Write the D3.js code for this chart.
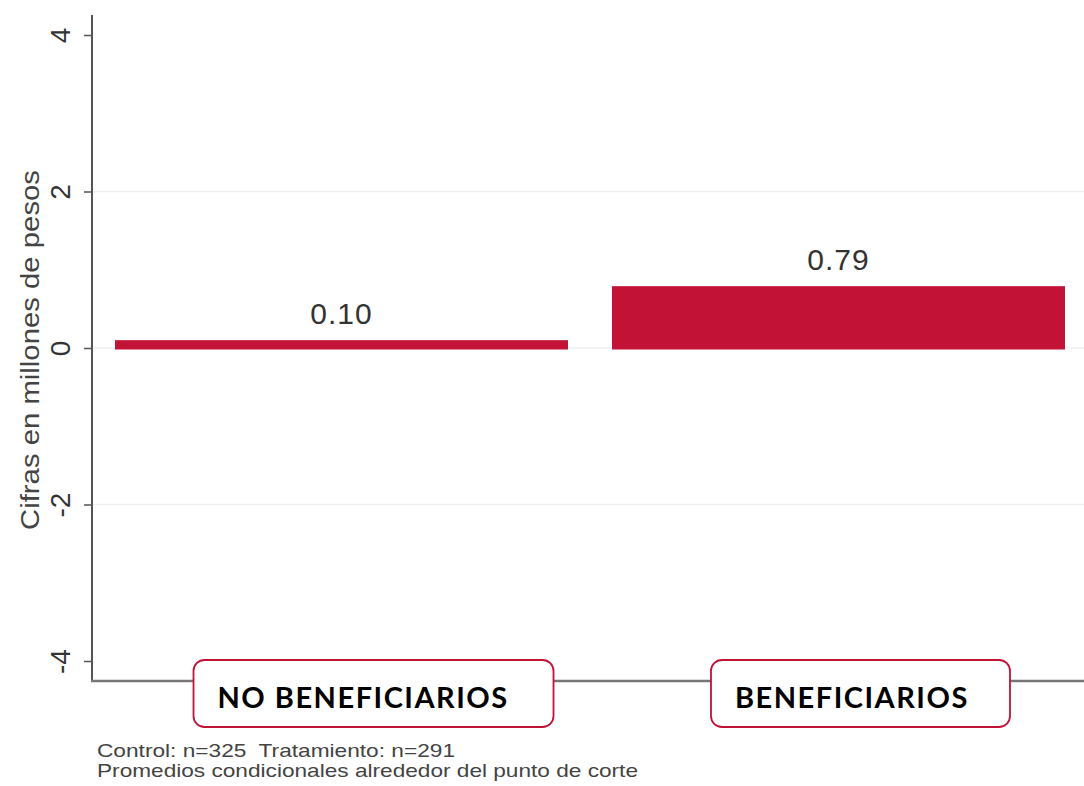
<!DOCTYPE html>
<html>
<head>
<meta charset="utf-8">
<script src="https://cdn.jsdelivr.net/npm/d3@7"></script>
<style>
  body { margin: 0; background: #fff; }
  svg { display: block; }
</style>
</head>
<body>
<div id="chart"></div>
<script>
const categories = ['NO BENEFICIARIOS', 'BENEFICIARIOS'];
const values = [0.10, 0.79];
const valueLabels = ['0.10', '0.79'];
const yTicks = [-4, -2, 0, 2, 4];
const gridTicks = [-2, 0, 2];
const notes = ['Control: n=325  Tratamiento: n=291', 'Promedios condicionales alrededor del punto de corte'];

const size = { width: 1084, height: 786 };
const barColor = '#c21236';
const sans = '"Liberation Sans", Arial, sans-serif';

const svg = d3.select('#chart')
    .append('svg')
    .attr('width', size.width)
    .attr('height', size.height);

const x = d3.scaleBand()
    .domain(categories)
    .range([93, 1087])
    .paddingInner(0.0885)
    .paddingOuter(0.0443);

const y = d3.scaleLinear()
    .domain([-4, 4])
    .range([661, 35]);

// grid
svg.append('g')
    .selectAll('line')
    .data(gridTicks)
    .enter()
    .append('line')
        .attr('x1', 93)
        .attr('x2', size.width)
        .attr('y1', d => y(d))
        .attr('y2', d => y(d))
        .attr('stroke', '#eef1f4')
        .attr('stroke-width', 1.5);

// bars
svg.append('g')
    .selectAll('rect')
    .data(values)
    .enter()
    .append('rect')
        .attr('x', (d, i) => x(categories[i]))
        .attr('width', x.bandwidth())
        .attr('y', d => y(Math.max(0, d)))
        .attr('height', d => Math.abs(y(d) - y(0)) + 1.5)
        .attr('fill', barColor);

// value labels
svg.append('g')
    .selectAll('text')
    .data(values)
    .enter()
    .append('text')
        .attr('x', (d, i) => x(categories[i]) + x.bandwidth() / 2)
        .attr('y', d => y(d) - 16)
        .attr('text-anchor', 'middle')
        .style('font-family', sans)
        .style('font-size', '30px')
        .style('letter-spacing', '1px')
        .attr('fill', '#333')
        .text((d, i) => valueLabels[i]);

// y axis
const yAxis = d3.axisLeft(y)
    .tickValues(yTicks)
    .tickSize(8)
    .tickPadding(10)
    .tickFormat(d => String(d));

const gY = svg.append('g')
    .attr('transform', 'translate(92,0)')
    .call(yAxis);

gY.select('.domain').remove();
gY.selectAll('.tick line').attr('stroke', '#555').attr('stroke-width', 1.5);
gY.selectAll('.tick text')
    .attr('transform', 'rotate(-90)')
    .attr('x', 0)
    .attr('y', -32)
    .attr('dy', '0.35em')
    .attr('text-anchor', 'middle')
    .style('font-family', sans)
    .style('font-size', '28px')
    .attr('fill', '#333');

svg.append('line')
    .attr('x1', 92).attr('x2', 92)
    .attr('y1', 15).attr('y2', 682)
    .attr('stroke', '#555').attr('stroke-width', 2);

svg.append('line')
    .attr('x1', 91).attr('x2', size.width)
    .attr('y1', 681).attr('y2', 681)
    .attr('stroke', '#777').attr('stroke-width', 2.5);

svg.append('text')
    .attr('transform', `translate(39, 350) rotate(-90)`)
    .attr('text-anchor', 'middle')
    .attr('textLength', 360)
    .attr('lengthAdjust', 'spacingAndGlyphs')
    .style('font-family', sans)
    .style('font-size', '25px')
    .attr('fill', '#444')
    .text('Cifras en millones de pesos');

// category boxes
const boxShift = [32, 22];
const boxW = [360, 299];
const boxes = svg.append('g')
    .selectAll('g')
    .data(categories)
    .enter()
    .append('g')
        .attr('transform', (d, i) => `translate(${x(d) + x.bandwidth() / 2 + boxShift[i] - boxW[i] / 2}, 660)`);

boxes.append('rect')
    .attr('width', (d, i) => boxW[i])
    .attr('height', 67)
    .attr('rx', 11)
    .attr('fill', '#fff')
    .attr('stroke', barColor)
    .attr('stroke-width', 1.8);

boxes.append('text')
    .attr('x', 24)
    .attr('y', 48)
    .style('font-family', 'Lato, "Open Sans", sans-serif')
    .style('font-weight', 'bold')
    .style('font-size', '29px')
    .style('letter-spacing', '1.5px')
    .attr('fill', '#000')
    .text(d => d);

// notes
const noteLen = [358, 541];
svg.append('g')
    .selectAll('text')
    .data(notes)
    .enter()
    .append('text')
        .attr('x', 97)
        .attr('y', (d, i) => 757 + i * 20)
        .attr('textLength', (d, i) => noteLen[i])
        .attr('lengthAdjust', 'spacingAndGlyphs')
        .style('font-family', sans)
        .style('font-size', '19px')
        .style('white-space', 'pre')
        .attr('fill', '#444')
        .text(d => d);
</script>
</body>
</html>
